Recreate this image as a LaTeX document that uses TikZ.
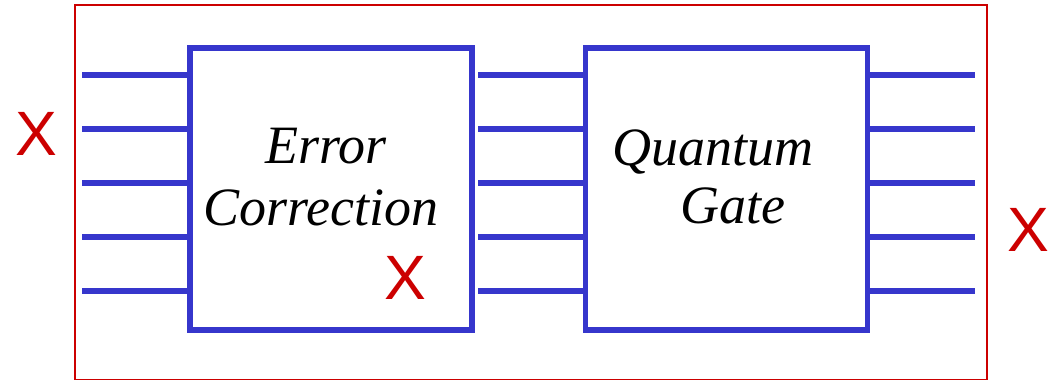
\documentclass[tikz,border=0pt]{standalone}
\usepackage{fontspec}
\setmainfont{Liberation Serif}
\newfontfamily\xfont{Liberation Sans}
\definecolor{wireblue}{RGB}{54,54,204}
\definecolor{errred}{RGB}{204,0,0}
\begin{document}
\begin{tikzpicture}[x=0.75pt,y=-0.75pt,
  gatebox/.style={draw=wireblue,line width=4.1pt,minimum width=211.5pt,minimum height=211.5pt,inner sep=0pt},
  wire/.style={draw=wireblue,line width=3.9pt},
  label/.style={font=\fontsize{40.5}{48}\selectfont\itshape,anchor=base,inner sep=0pt},
  errx/.style={font=\xfont\fontsize{47}{56}\selectfont,text=errred,inner sep=0pt}]
\useasboundingbox (0,0) rectangle (1050,379);
\draw[errred,line width=1.1pt] (75,5) rectangle (987,379.5);
\node[gatebox] (ec) at (331,189) {};
\node[gatebox] (qg) at (726.5,189) {};
\node[label] (t1) at (326,163) {Error};
\node[label] (t2) at (321,225) {Correction};
\node[label] (t3) at (713,165) {Quantum};
\node[label] (t4) at (733,223.5) {Gate};
\foreach \i/\y in {1/75,2/129,3/183,4/237,5/291}{
  \coordinate (in\i) at (82,\y);
  \coordinate (mid\i) at (478,\y);
  \coordinate (out\i) at (975,\y);
  \draw[wire] (in\i) -- (in\i -| ec.west);
  \draw[wire] (mid\i) -- (mid\i -| qg.west);
  \draw[wire] (qg.east |- out\i) -- (out\i);
}
\node[errx] (x1) at (36,134) {X};
\node[errx] (x2) at (405,278) {X};
\node[errx] (x3) at (1028,230) {X};
\end{tikzpicture}
\end{document}
